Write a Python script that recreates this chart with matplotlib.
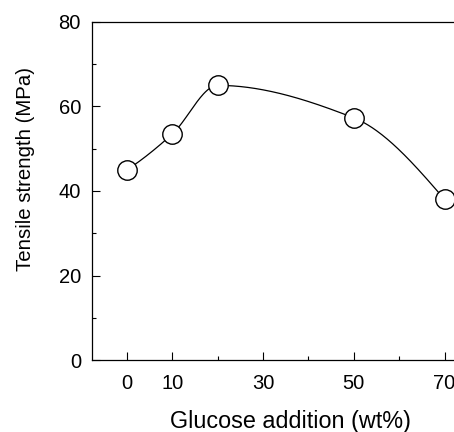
import numpy as np
import matplotlib
matplotlib.use("Agg")
import matplotlib.pyplot as plt
from matplotlib.ticker import FixedLocator

glucose = [0, 10, 20, 50, 70]
strength = [45.0, 53.5, 65.0, 57.3, 38.0]
xticks = [0, 10, 30, 50, 70]
xminor = [20, 40, 60]
yticks = [0, 20, 40, 60, 80]
yminor = [10, 30, 50, 70]

def pchip(x, y, xs):
    x = np.asarray(x, float); y = np.asarray(y, float)
    h = np.diff(x); d = np.diff(y) / h
    n = len(x); m = np.zeros(n)
    for k in range(1, n - 1):
        if d[k - 1] * d[k] > 0:
            w1 = 2 * h[k] + h[k - 1]; w2 = h[k] + 2 * h[k - 1]
            m[k] = (w1 + w2) / (w1 / d[k - 1] + w2 / d[k])
    m[0] = ((2 * h[0] + h[1]) * d[0] - h[0] * d[1]) / (h[0] + h[1])
    if np.sign(m[0]) != np.sign(d[0]): m[0] = 0
    m[-1] = ((2 * h[-1] + h[-2]) * d[-1] - h[-1] * d[-2]) / (h[-1] + h[-2])
    if np.sign(m[-1]) != np.sign(d[-1]): m[-1] = 0
    out = np.empty_like(xs)
    for i, xv in enumerate(xs):
        k = min(np.searchsorted(x, xv, side="right") - 1, n - 2)
        t = (xv - x[k]) / h[k]
        h00 = 2*t**3 - 3*t**2 + 1; h10 = t**3 - 2*t**2 + t
        h01 = -2*t**3 + 3*t**2; h11 = t**3 - t**2
        out[i] = h00*y[k] + h10*h[k]*m[k] + h01*y[k+1] + h11*h[k]*m[k+1]
    return out

plt.rcParams['font.family'] = ['Liberation Sans', 'DejaVu Sans']

fig = plt.figure(figsize=(4.54, 4.32), dpi=100)
# axes extends past the right edge of the figure (cropped as in the reference)
ax = fig.add_axes([92/454, 72/432, 398/454, 338/432])

xs = np.linspace(glucose[0], glucose[-1], 300)
ax.plot(xs, pchip(glucose, strength, xs), color='black', lw=0.9, zorder=2)
ax.plot(glucose, strength, 'o', ms=14, mfc='white', mec='black', mew=1.0, zorder=3, clip_on=False)

ax.set_xlim(-7.7, 80)
ax.set_ylim(0, 80)
ax.xaxis.set_major_locator(FixedLocator(xticks))
ax.xaxis.set_minor_locator(FixedLocator(xminor))
ax.yaxis.set_major_locator(FixedLocator(yticks))
ax.yaxis.set_minor_locator(FixedLocator(yminor))
ax.tick_params(which='both', direction='in', width=0.8, labelsize=14.5)
ax.tick_params(which='major', length=6)
ax.tick_params(which='minor', length=3)
ax.tick_params(axis='x', which='major', pad=10)
ax.tick_params(axis='y', which='major', pad=8)
for s in ax.spines.values():
    s.set_linewidth(0.9)

ax.set_xlabel('Glucose addition (wt%)', fontsize=16.8)
ax.xaxis.set_label_coords(0.5, -0.148)
ax.set_ylabel('Tensile strength (MPa)', fontsize=14.7)
ax.yaxis.set_label_coords(-0.142, 0.565)

fig.savefig('out.png', dpi=100)
